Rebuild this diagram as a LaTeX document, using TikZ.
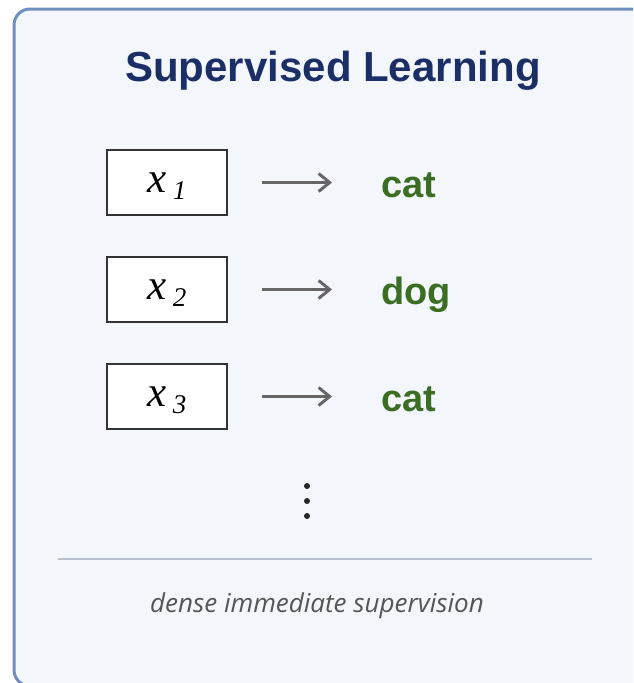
\documentclass[tikz,border=0pt]{standalone}
\usepackage{fontspec}
\setmainfont{Liberation Sans}
\newfontfamily\notefont{Open Sans}
\newfontfamily\varfont{Liberation Serif}
\usetikzlibrary{arrows.meta}
\definecolor{panelfill}{HTML}{F3F6FB}
\definecolor{panelrule}{HTML}{6F8FC0}
\definecolor{titleblue}{HTML}{1B2F66}
\definecolor{labelgreen}{HTML}{3B6E22}
\definecolor{arrowgray}{HTML}{666666}
\definecolor{sepgray}{HTML}{B8C0CC}
\definecolor{notegray}{HTML}{555555}
\tikzset{
  inputbox/.style={draw=black!80, line width=2pt, fill=white, minimum width=120pt, minimum height=65pt, inner sep=0pt,
    text height=29pt, text depth=10pt},
  classlabel/.style={anchor=base west, inner sep=0pt, text=labelgreen, font=\fontsize{38}{42}\selectfont\bfseries},
  maparrow/.style={draw=arrowgray, line width=3pt, -{Straight Barb[length=11pt,width=18pt,line width=3pt]}, shorten <=34pt, shorten >=49pt},
  vdot/.style={circle, fill=black!85, inner sep=0pt, minimum size=6pt},
}
\newcommand{\xvar}[1]{{\varfont\itshape\fontsize{43}{46}\selectfont x\hspace{6pt}\raisebox{-7.5pt}{\fontsize{27}{30}\selectfont #1}}}
\begin{document}
\begin{tikzpicture}[x=1pt,y=-1pt]
\useasboundingbox (0,0) rectangle (633,683);
\begin{scope}
  \clip (0,0) rectangle (633,683);
  \draw[panelrule, line width=3pt, fill=panelfill, rounded corners=16pt] (14,9) rectangle (660,686);
\end{scope}

\node[anchor=base, inner sep=0pt, text=titleblue, font=\fontsize{42}{46}\selectfont\bfseries] (title) at (333,81) {Supervised Learning};

\node[inputbox] (in1) at (167,182.5) {\xvar{1}};
\node[inputbox] (in2) at (167,289.5) {\xvar{2}};
\node[inputbox] (in3) at (167,396.5) {\xvar{3}};

\node[classlabel] (out1) at (381,197) {cat};
\node[classlabel] (out2) at (381,304) {dog};
\node[classlabel] (out3) at (381,411) {cat};

\draw[maparrow] (in1.east) -- (in1.east -| out1.west);
\draw[maparrow] (in2.east) -- (in2.east -| out2.west);
\draw[maparrow] (in3.east) -- (in3.east -| out3.west);

\node[vdot] (d1) at (307,486) {};
\node[vdot] (d2) at (307,501) {};
\node[vdot] (d3) at (307,516) {};

\coordinate (ruleL) at (58,559);
\coordinate (ruleR) at (592,559);
\draw[sepgray, line width=1.5pt] (ruleL) -- (ruleR);

\node[anchor=base, inner sep=0pt, text=notegray, font=\notefont\itshape\fontsize{26}{30}\selectfont] (note) at (317,612) {dense immediate supervision};
\end{tikzpicture}
\end{document}
